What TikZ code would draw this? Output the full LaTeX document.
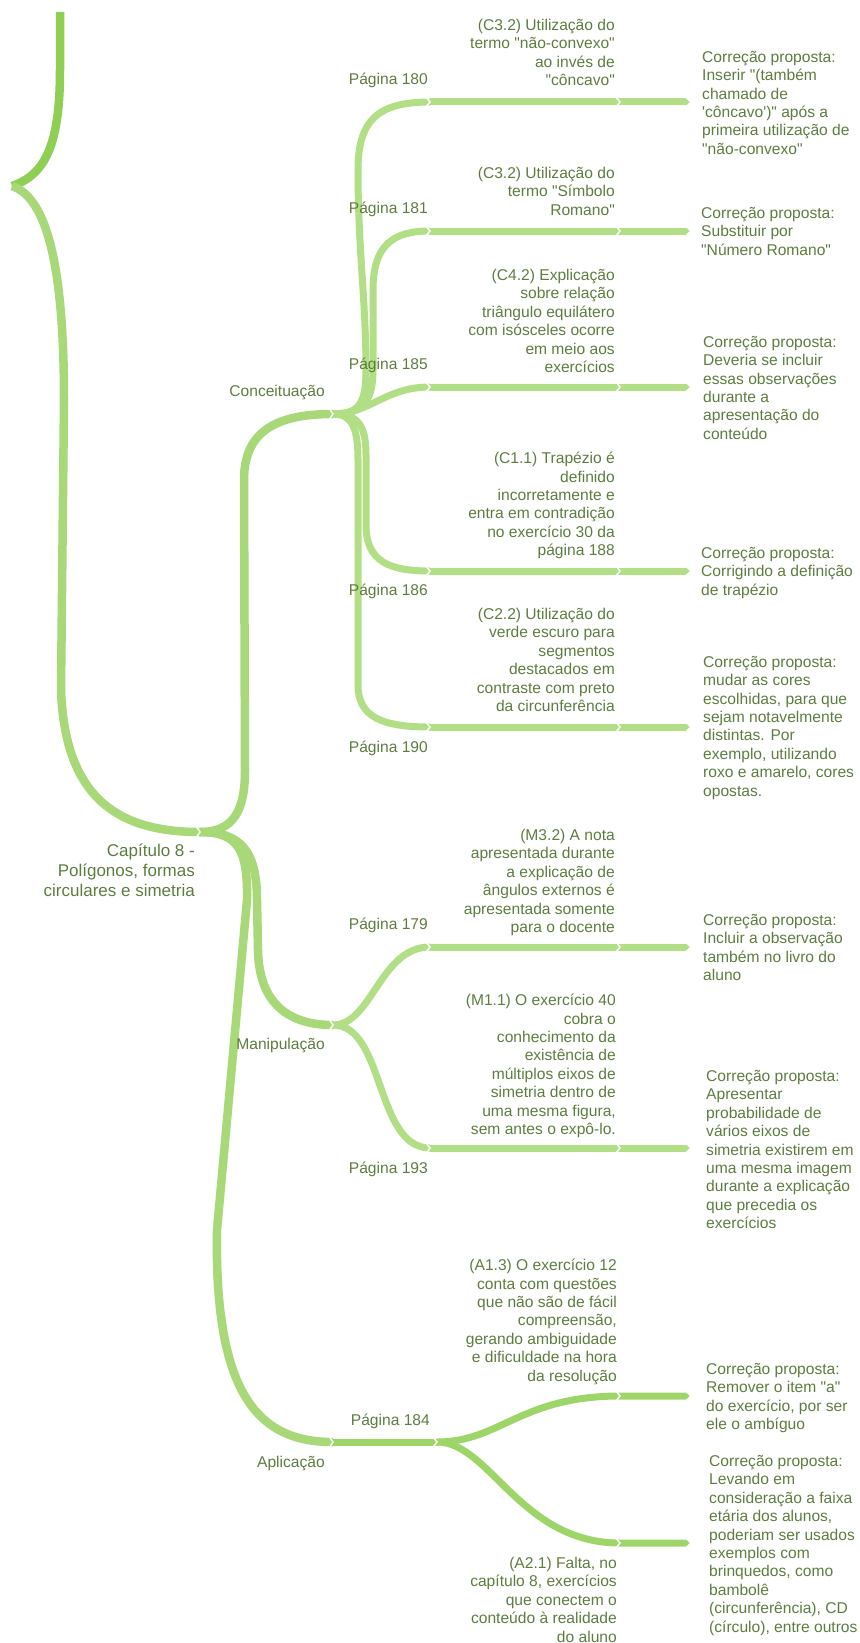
\documentclass[tikz,border=0pt]{standalone}
\usepackage{fontspec}
\usepackage{tikz}
\usetikzlibrary{calc}
\newfontfamily\mapfont{Liberation Sans}

\definecolor{topgreen}{RGB}{143,208,84}
\definecolor{limbgreen}{RGB}{168,216,120}
\definecolor{twiggreen}{RGB}{178,222,134}
\definecolor{aplgreen}{RGB}{158,213,104}
\definecolor{ink}{RGB}{94,124,64}

\tikzset{
  limb/.style={line width=8.5pt, draw=limbgreen},
  twig/.style={line width=7pt, draw=twiggreen},
  txt/.style={font=\mapfont\fontsize{15.6}{18.4}\selectfont, text=ink, inner sep=0pt},
  note/.style={txt, align=right, anchor=north east},
  fix/.style={txt, align=left, anchor=north west},
  pg/.style={txt, anchor=east},
}

\newcommand{\joint}[2][6]{\draw[white, line width=1.5pt] ($(#2)+(-4,-#1)$) -- (#2) -- ($(#2)+(-4,#1)$);}
\newcommand{\tipcut}[1]{\fill[white] ($(#1)+(-5,-4.5)$) -- (#1) -- ($(#1)+(-5,4.5)$) -- ($(#1)+(2,4.5)$) -- ($(#1)+(2,-4.5)$) -- cycle;}

\begin{document}
\begin{tikzpicture}[x=1pt, y=-1pt]
    \useasboundingbox (0,0) rectangle (859,1643);

    % hubs
    \coordinate (top) at (60,12);
    \coordinate (fork) at (12,186);
    \coordinate (cap) at (200,832);
    \coordinate (conc) at (333,414);
    \coordinate (manip) at (333,1025);
    \coordinate (aplic) at (333,1442);
    \coordinate (p184) at (437,1442);
    \foreach \p/\y in {180/102,181/231,185/387,186/571,190/727,179/947,193/1148}{
        \coordinate (p\p) at (430,\y);
        \coordinate (q\p) at (620,\y);
        \coordinate (e\p) at (690,\y);
    }
    \coordinate (qa) at (620,1396); \coordinate (ea) at (690,1396);
    \coordinate (qb) at (620,1543); \coordinate (eb) at (690,1543);

    % trunk
    \draw[limb, draw=topgreen] (top) -- (60,70) .. controls (60,145) and (45,175) .. (fork);
    \draw[limb] (fork) .. controls (48,198) and (64,270) .. (64,400) -- (61,690) .. controls (65,800) and (120,832) .. (cap);

    % chapter to categories
    \draw[limb] (cap) .. controls (234,832) and (245,810) .. (245,770) -- (244,480) .. controls (244,432) and (275,414) .. (conc);
    \draw[limb] (cap) .. controls (240,832) and (257,850) .. (257,900) -- (258,950) .. controls (259,1005) and (290,1025) .. (manip);
    \draw[limb] (cap) .. controls (238,832) and (248,850) .. (247,900) -- (217,1230) .. controls (214,1400) and (262,1442) .. (aplic);

    % Conceituacao
    \draw[twig] (conc) .. controls (358,414) and (366,405) .. (366,370) .. controls (366,300) and (358,250) .. (358,170) .. controls (358,120) and (378,102) .. (p180);
    \draw[twig] (conc) .. controls (360,414) and (373,405) .. (373,370) -- (373,290) .. controls (373,245) and (393,231) .. (p181);
    \draw[twig] (conc) .. controls (370,414) and (385,387) .. (p185);
    \draw[twig] (conc) .. controls (358,414) and (366,425) .. (366,455) -- (366,525) .. controls (366,562) and (390,571) .. (p186);
    \draw[twig] (conc) .. controls (352,414) and (358,428) .. (358,460) -- (358,685) .. controls (358,717) and (382,727) .. (p190);

    % Manipulacao
    \draw[twig] (manip) .. controls (372,1025) and (380,947) .. (p179);
    \draw[twig] (manip) .. controls (385,1025) and (375,1148) .. (p193);

    % Aplicacao
    \draw[twig, draw=aplgreen] (aplic) -- (p184);
    \draw[twig, draw=aplgreen] (p184) .. controls (500,1442) and (520,1396) .. (qa) -- (ea);
    \draw[twig, draw=aplgreen] (p184) .. controls (490,1442) and (520,1543) .. (qb) -- (eb);

    % bars under the notes
    \foreach \p in {180,181,185,186,190,179,193}{
        \draw[twig] (p\p) -- (e\p);
        \joint[5]{p\p}
        \joint[5]{q\p}
        \tipcut{e\p}
    }
    \foreach \j in {cap,conc,manip,aplic}{\joint{\j}}
    \joint[5]{p184} \joint[5]{qa} \joint[5]{qb}
    \tipcut{ea} \tipcut{eb}

    % labels
    \node[txt, align=right, anchor=north east, font=\mapfont\fontsize{17}{20}\selectfont] (chap) at (195,844)
        {Capítulo 8 -\\Polígonos, formas\\circulares e simetria};
    \node[pg] (lconc) at (325,392) {Conceituação};
    \node[pg] (lmanip) at (325,1045) {Manipulação};
    \node[pg] (laplic) at (325,1463) {Aplicação};

    \node[pg] (pg180) at (428,80) {Página 180};
    \node[pg] (pg181) at (428,209) {Página 181};
    \node[pg] (pg185) at (428,365) {Página 185};
    \node[pg] (pg186) at (428,591) {Página 186};
    \node[pg] (pg190) at (428,748) {Página 190};
    \node[pg] (pg179) at (428,925) {Página 179};
    \node[pg] (pg193) at (428,1169) {Página 193};
    \node[pg] (pg184) at (430,1421) {Página 184};

    % problems
    \node[note] (d180) at (615,19) {(C3.2) Utilização do\\termo "não-convexo"\\ao invés de\\"côncavo"};
    \node[note] (d181) at (615,167) {(C3.2) Utilização do\\termo "Símbolo\\Romano"};
    \node[note] (d185) at (615,269) {(C4.2) Explicação\\sobre relação\\triângulo equilátero\\com isósceles ocorre\\em meio aos\\exercícios};
    \node[note] (d186) at (615,452) {(C1.1) Trapézio é\\definido\\incorretamente e\\entra em contradição\\no exercício 30 da\\página 188};
    \node[note] (d190) at (615,608) {(C2.2) Utilização do\\verde escuro para\\segmentos\\destacados em\\contraste com preto\\da circunferência};
    \node[note] (d179) at (615,829) {(M3.2) A nota\\apresentada durante\\a explicação de\\ângulos externos é\\apresentada somente\\para o docente};
    \node[note] (d193) at (616,994) {(M1.1) O exercício 40\\cobra o\\conhecimento da\\existência de\\múltiplos eixos de\\simetria dentro de\\uma mesma figura,\\sem antes o expô-lo.};
    \node[note] (da13) at (617,1259) {(A1.3) O exercício 12\\conta com questões\\que não são de fácil\\compreensão,\\gerando ambiguidade\\e dificuldade na hora\\da resolução};
    \node[note] (da21) at (617,1557) {(A2.1) Falta, no\\capítulo 8, exercícios\\que conectem o\\conteúdo à realidade\\do aluno};

    % proposals
    \node[fix] (r180) at (702,51) {Correção proposta:\\Inserir "(também\\chamado de\\'côncavo')" após a\\primeira utilização de\\"não-convexo"};
    \node[fix] (r181) at (701,207) {Correção proposta:\\Substituir por\\"Número Romano"};
    \node[fix] (r185) at (703,336) {Correção proposta:\\Deveria se incluir\\essas observações\\durante a\\apresentação do\\conteúdo};
    \node[fix] (r186) at (701,547) {Correção proposta:\\Corrigindo a definição\\de trapézio};
    \node[fix] (r190) at (703,656) {Correção proposta:\\mudar as cores\\escolhidas, para que\\sejam notavelmente\\distintas. Por\\exemplo, utilizando\\roxo e amarelo, cores\\opostas.};
    \node[fix] (r179) at (703,914) {Correção proposta:\\Incluir a observação\\também no livro do\\aluno};
    \node[fix] (r193) at (706,1070) {Correção proposta:\\Apresentar\\probabilidade de\\vários eixos de\\simetria existirem em\\uma mesma imagem\\durante a explicação\\que precedia os\\exercícios};
    \node[fix] (ra13) at (706,1363) {Correção proposta:\\Remover o item "a"\\do exercício, por ser\\ele o ambíguo};
    \node[fix] (ra21) at (709,1455) {Correção proposta:\\Levando em\\consideração a faixa\\etária dos alunos,\\poderiam ser usados\\exemplos com\\brinquedos, como\\bambolê\\(circunferência), CD\\(círculo), entre outros};
\end{tikzpicture}
\end{document}
